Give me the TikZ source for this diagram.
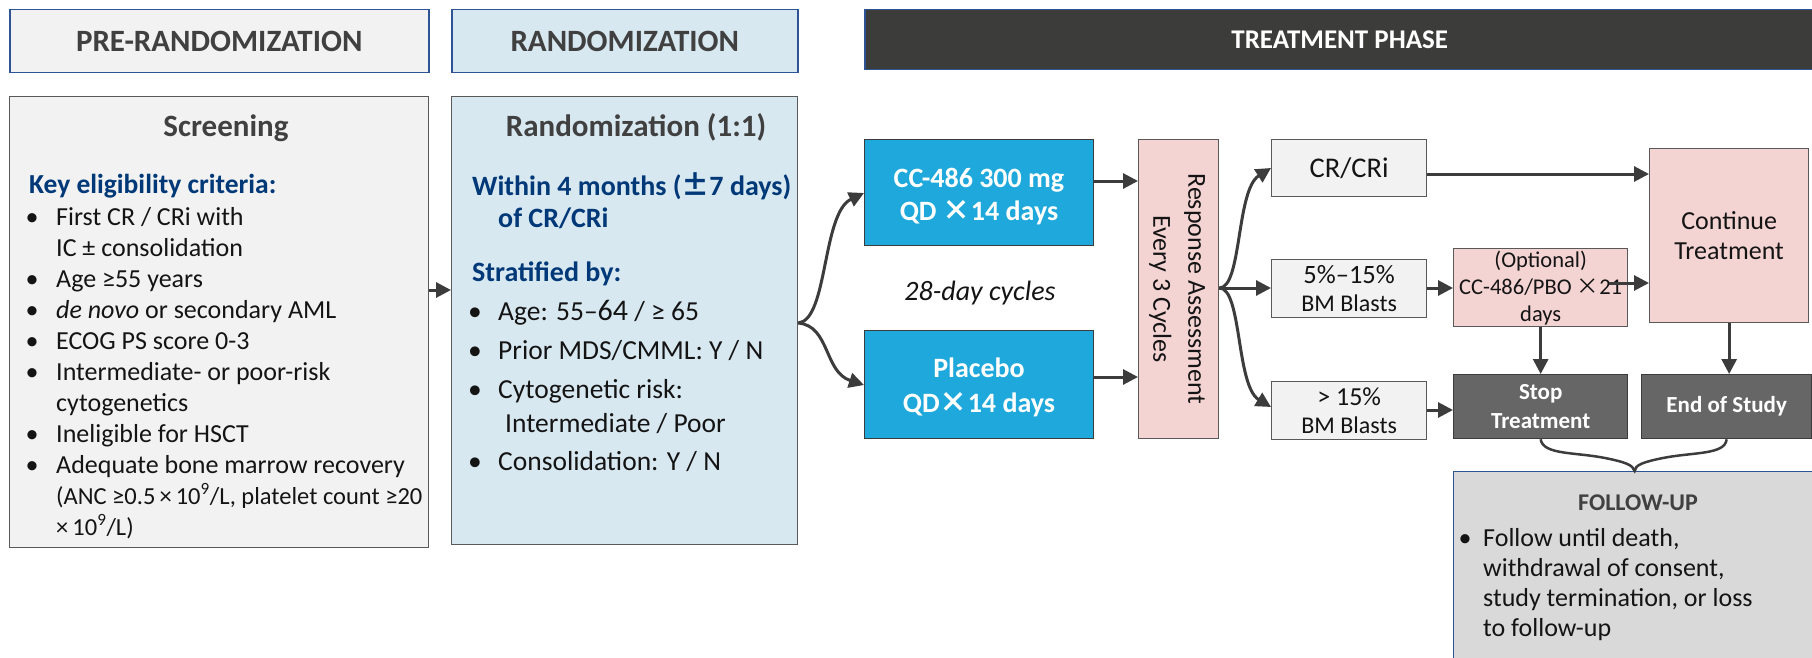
\documentclass[tikz,border=0pt]{standalone}
\usepackage{fontspec}
\setmainfont{Carlito}
\newfontfamily\cjk{Noto Sans CJK SC}
\usetikzlibrary{arrows.meta,calc}
\definecolor{navy}{RGB}{0,56,120}
\definecolor{ttl}{RGB}{64,64,64}
\definecolor{txt}{RGB}{20,20,20}
\definecolor{hdrblue}{RGB}{46,84,150}
\definecolor{lgray}{RGB}{242,242,242}
\definecolor{lblue}{RGB}{216,232,240}
\definecolor{cyanb}{RGB}{30,168,219}
\definecolor{pinkb}{RGB}{244,211,211}
\definecolor{dgray}{RGB}{102,102,102}
\definecolor{fugray}{RGB}{217,217,217}
\definecolor{darkhdr}{RGB}{60,60,59}
\definecolor{arr}{RGB}{60,60,60}
\definecolor{bord}{RGB}{89,89,89}
\newcommand{\fsz}[2]{\fontsize{#1}{#2}\selectfont}
\newcommand{\cjktimes}{{\cjk ×}}
\newcommand{\cjkpm}{{\cjk ±}}
\begin{document}
\begin{tikzpicture}[x=1pt,y=-1pt,
  box/.style={draw=bord, line width=1.3pt, inner sep=0pt, anchor=north west},
  hdr/.style={draw=hdrblue, line width=1.5pt, inner sep=0pt, anchor=north west},
  conn/.style={draw=arr, line width=3pt, -{Triangle[length=15pt,width=15pt]}},
  lbl/.style={inner sep=0pt, text=txt},
  bl/.style={lbl, font=\fsz{26}{26}, anchor=base},
  bt/.style={lbl, font=\fsz{26}{26}, anchor=base west},
  rbl/.style={lbl, font=\fsz{27.5}{27.5}, anchor=base},
  rbt/.style={lbl, font=\fsz{27.5}{27.5}, anchor=base west},
  fbl/.style={lbl, font=\fsz{26}{26}, anchor=base},
  fbt/.style={lbl, font=\fsz{26}{26}, anchor=base west},
]
\useasboundingbox (0,0) rectangle (1812,658);
\fill[white] (0,0) rectangle (1812,658);

% headers
\node[hdr, fill=lgray, minimum width=419, minimum height=63, font=\bfseries\fsz{31}{31}, text=ttl] (hpre) at (9,9) {PRE-RANDOMIZATION};
\node[hdr, fill=lblue, minimum width=346, minimum height=63, font=\bfseries\fsz{31}{31}, text=ttl] (hrnd) at (451,9) {RANDOMIZATION};
\node[hdr, fill=darkhdr, minimum width=950, minimum height=60, font=\bfseries\fsz{27}{27}, text=white] (htr) at (864,9) {TREATMENT PHASE};

% screening
\node[box, fill=lgray, minimum width=419, minimum height=451] (scr) at (9,96) {};
\node[lbl, font=\bfseries\fsz{31}{31}, text=ttl, anchor=base] (scrt) at (226,137) {Screening};
\node[lbl, font=\bfseries\fsz{27.5}{27.5}, text=navy, anchor=base west] (key) at (29,193) {Key eligibility criteria:};
\node[bl] (sb1) at (32,225) {\textbullet};
\node[bt] (st1) at (56,225) {First CR / CRi with};
\node[bt] (st1b) at (56,256) {IC ± consolidation};
\node[bl] (sb2) at (32,287) {\textbullet};
\node[bt] (st2) at (56,287) {Age ≥55 years};
\node[bl] (sb3) at (32,318) {\textbullet};
\node[bt] (st3) at (56,318) {\textit{de novo} or secondary AML};
\node[bl] (sb4) at (32,349) {\textbullet};
\node[bt] (st4) at (56,349) {ECOG PS score 0-3};
\node[bl] (sb5) at (32,380) {\textbullet};
\node[bt] (st5) at (56,380) {Intermediate- or poor-risk};
\node[bt] (st5b) at (56,411) {cytogenetics};
\node[bl] (sb6) at (32,442) {\textbullet};
\node[bt] (st6) at (56,442) {Ineligible for HSCT};
\node[bl] (sb7) at (32,473) {\textbullet};
\node[bt] (st7) at (56,473) {Adequate bone marrow recovery};
\node[bt, font=\fsz{24.5}{24.5}] (st7b) at (56,504) {(ANC ≥0.5\,×\,10\textsuperscript{9}/L, platelet count ≥20};
\node[bt, font=\fsz{24.5}{24.5}] (st7c) at (56,535) {×\,10\textsuperscript{9}/L)};

% randomization
\node[box, fill=lblue, minimum width=346, minimum height=448] (rnd) at (451,96) {};
\node[lbl, font=\bfseries\fsz{31}{31}, text=ttl, anchor=base] (rndt) at (636,137) {Randomization (1:1)};
\node[lbl, font=\bfseries\fsz{28}{28}, text=navy, anchor=base west] (win) at (472,195) {Within 4 months (\cjkpm7 days)};
\node[lbl, font=\bfseries\fsz{28}{28}, text=navy, anchor=base west] (win2) at (498,227) {of CR/CRi};
\node[lbl, font=\bfseries\fsz{28}{28}, text=navy, anchor=base west] (strat) at (472,281) {Stratified by:};
\node[rbl] (rb1) at (475,320) {\textbullet};
\node[rbt] (rt1) at (498,320) {Age: 55–{\fsz{30}{30}64} / ≥ 65};
\node[rbl] (rb2) at (475,359) {\textbullet};
\node[rbt] (rt2) at (498,359) {Prior MDS/CMML: Y / N};
\node[rbl] (rb3) at (475,398) {\textbullet};
\node[rbt] (rt3) at (498,398) {Cytogenetic risk:};
\node[rbt] (rt3b) at (505,432) {Intermediate / Poor};
\node[rbl] (rb4) at (475,470) {\textbullet};
\node[rbt] (rt4) at (498,470) {Consolidation: Y / N};

% arms
\node[box, draw=arr, fill=cyanb, minimum width=229, minimum height=106] (cc) at (864,139) {};
\node[lbl, text=white, font=\bfseries\fsz{28}{28}, anchor=base] (cct1) at (979,187) {CC-486 300 mg};
\node[lbl, text=white, font=\bfseries\fsz{28}{28}, anchor=base] (cct2) at (979,220) {QD \cjktimes14 days};
\node[box, draw=arr, fill=cyanb, minimum width=229, minimum height=108] (pl) at (864,330) {};
\node[lbl, text=white, font=\bfseries\fsz{28}{28}, anchor=base] (plt1) at (979,377) {Placebo};
\node[lbl, text=white, font=\bfseries\fsz{28}{28}, anchor=base] (plt2) at (979,412) {QD\cjktimes14 days};
\node[lbl, font=\itshape\fsz{28}{28}, anchor=base] (cyc) at (980,300) {28-day cycles};

% response assessment
\node[box, fill=pinkb, minimum width=80, minimum height=299] (resp) at (1138,139) {};
\node[lbl, font=\fsz{26}{35}, align=center, rotate=-90] (respt) at (1177,289) {Response Assessment\\Every 3 Cycles};

% outcomes
\node[box, fill=lgray, minimum width=155, minimum height=57, font=\fsz{28.5}{28.5}, text=txt] (crc) at (1271,139) {CR/CRi};
\node[box, fill=lgray, minimum width=155, minimum height=58, font=\fsz{24}{28}, align=center, text=txt] (b5) at (1271,259) {{\fsz{26.5}{28}5\%–15\%}\\BM Blasts};
\node[box, fill=lgray, minimum width=155, minimum height=58, font=\fsz{24}{28}, align=center, text=txt] (b15) at (1271,381) {{\fsz{26}{28}> 15\%}\\BM Blasts};
\node[box, fill=pinkb, minimum width=174, minimum height=78, font=\fsz{22.5}{27}, align=center, text=txt] (opt) at (1453,248) {(Optional)\\CC-486/PBO \cjktimes21\\days};
\node[box, fill=pinkb, minimum width=159, minimum height=174, font=\fsz{26}{30}, align=center, text=txt] (cont) at (1649,148) {Continue\\Treatment};
\node[box, draw=arr, fill=dgray, minimum width=174, minimum height=64, font=\bfseries\fsz{23}{29}, align=center, text=white] (stop) at (1453,374) {Stop\\Treatment};
\node[box, draw=arr, fill=dgray, minimum width=170, minimum height=64, font=\bfseries\fsz{23}{29}, align=center, text=white] (eos) at (1641,374) {End of Study};

% follow-up
\node[box, draw=hdrblue, fill=fugray, minimum width=362, minimum height=190] (fu) at (1453,471) {};
\node[lbl, font=\bfseries\fsz{24}{24}, text=ttl, anchor=base] (fut) at (1638,510) {FOLLOW-UP};
\node[fbl] (fb1) at (1465,546) {\textbullet};
\node[fbt] (ft1) at (1483,546) {Follow until death,};
\node[fbt] (ft2) at (1483,576) {withdrawal of consent,};
\node[fbt] (ft3) at (1483,606) {study termination, or loss};
\node[fbt] (ft4) at (1483,636) {to follow-up};

% connectors
\draw[conn] (scr.east |- 0,290) -- (rnd.west |- 0,290);
\draw[conn] (rnd.east |- 0,323) .. controls (828,320) and (822,213) .. (cc.west |- 0,193);
\draw[conn] (rnd.east |- 0,323) .. controls (830,326) and (824,372) .. (pl.west |- 0,385);
\draw[conn] (cc.east |- 0,181) -- (resp.west |- 0,181);
\draw[conn] (pl.east |- 0,377) -- (resp.west |- 0,377);
\draw[conn] (resp.east |- 0,288) .. controls (1242,288) and (1236,190) .. (crc.west |- 0,168);
\draw[conn] (resp.east |- 0,288) -- (b5.west |- 0,288);
\draw[conn] (resp.east |- 0,288) .. controls (1242,288) and (1236,386) .. (b15.west |- 0,407);
\draw[conn] (crc.east |- 0,174) -- (cont.west |- 0,174);
\draw[conn] (b5.east |- 0,288) -- (opt.west |- 0,288);
\draw[conn] ($(opt.east |- 0,283)+(-19,0)$) -- (cont.west |- 0,283);
\draw[conn] (b15.east |- 0,410) -- (stop.west |- 0,410);
\draw[conn] (opt.south -| stop.south) -- (stop.north);
\draw[conn] (cont.south) -- (cont.south |- eos.north);
\draw[draw=arr, line width=2.5pt] (stop.south) .. controls (1543,455) and (1575,452) .. (1605,458) .. controls (1625,462) and (1633,465) .. (fu.north)
  .. controls (1635,465) and (1643,462) .. (1663,458) .. controls (1693,452) and (1725,455) .. (eos.south);
\end{tikzpicture}
\end{document}
